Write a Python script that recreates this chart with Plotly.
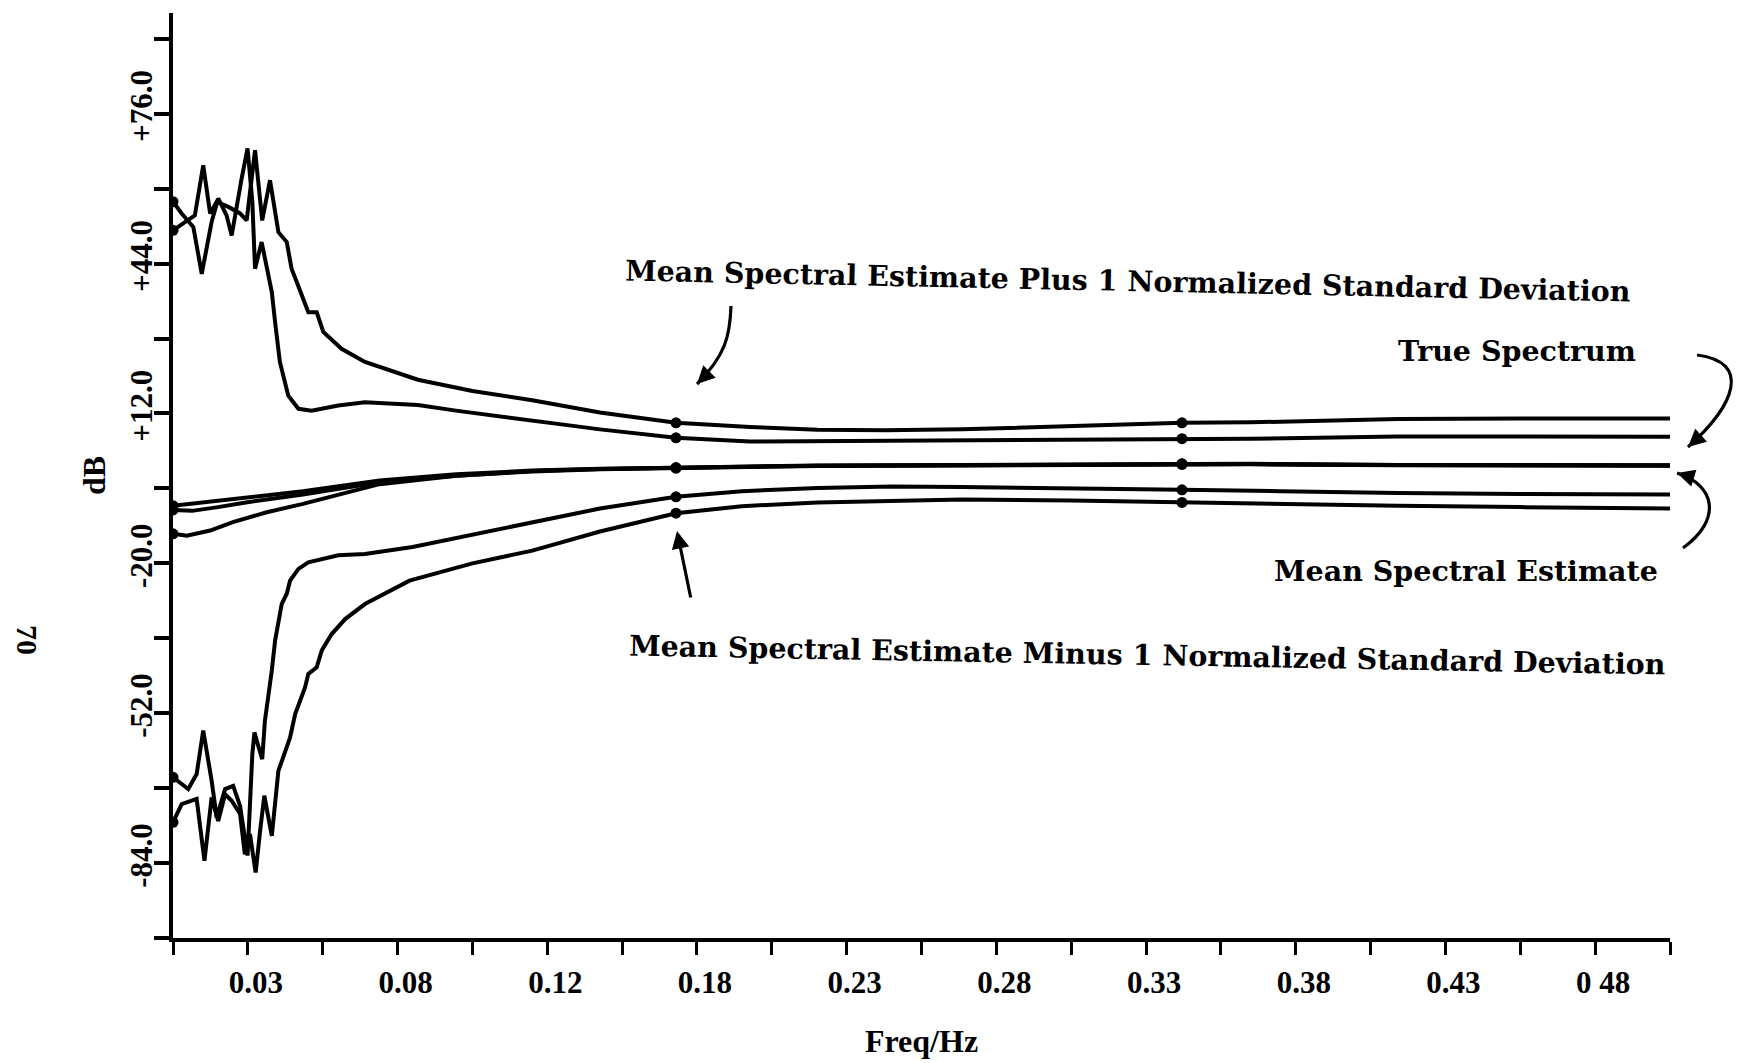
import plotly.graph_objects as go

# ---------------- data ----------------
PLUS_A_X = [0, 0.0029, 0.0068, 0.0096, 0.0129, 0.0151, 0.0179, 0.0196, 0.0229, 0.0249,
            0.0265, 0.0274, 0.0296, 0.0313, 0.033, 0.0341, 0.0357, 0.0385, 0.0419, 0.0463,
            0.0552, 0.0641, 0.0818, 0.0945, 0.115, 0.133, 0.1426, 0.168, 0.1927, 0.2153,
            0.2636, 0.3, 0.337, 0.36, 0.409, 0.45, 0.5]
PLUS_A_Y = [57.2, 54.7, 51.8, 41.8, 52.9, 57.9, 54.3, 50.0, 62.1, 68.6,
            57.2, 42.9, 48.6, 43.6, 37.9, 31.5, 23.0, 15.8, 13.0, 12.6,
            13.7, 14.4, 13.8, 12.6, 10.8, 9.4, 8.6, 6.8, 6.0, 6.1,
            6.1, 6.3, 6.6, 6.6, 7.1, 7.0, 7.0]

PLUS_B_X = [0, 0.00345, 0.0073, 0.0101, 0.0124, 0.0146, 0.0185, 0.0224, 0.0246, 0.0274,
            0.0298, 0.0324, 0.0352, 0.038, 0.0396, 0.0413, 0.0435, 0.0452, 0.048, 0.0502,
            0.0563, 0.0641, 0.0818, 0.1, 0.12, 0.1426, 0.168, 0.1927, 0.2153, 0.238,
            0.2636, 0.3, 0.337, 0.36, 0.409, 0.45, 0.5]
PLUS_B_Y = [51.1, 52.7, 54.3, 65.0, 54.7, 57.2, 56.1, 54.7, 53.2, 68.2,
            53.2, 61.8, 50.7, 48.6, 42.9, 40.1, 36.5, 33.6, 33.6, 29.4,
            25.8, 23.0, 19.2, 16.8, 14.8, 12.2, 10.0, 9.1, 8.5, 8.4,
            8.6, 9.2, 10.0, 10.1, 10.8, 10.9, 10.9]

MINUS_A_X = [0, 0.0051, 0.0079, 0.0101, 0.0129, 0.0146, 0.0174, 0.0201, 0.0224, 0.0249,
             0.0265, 0.0272, 0.0283, 0.0298, 0.0307, 0.0318, 0.033, 0.0341, 0.0352, 0.0363,
             0.038, 0.0391, 0.0419, 0.0452, 0.0552, 0.0641, 0.08, 0.0945, 0.115, 0.133,
             0.1426, 0.168, 0.19, 0.2153, 0.24, 0.2636, 0.3, 0.337, 0.37, 0.409,
             0.45, 0.5]
MINUS_A_Y = [-65.7, -68.2, -65.0, -55.7, -66.4, -74.3, -68.2, -67.5, -71.8, -82.4,
             -60.7, -56.1, -58.6, -61.8, -53.6, -48.6, -42.9, -36.5, -32.9, -28.7,
             -26.5, -23.7, -21.2, -19.8, -18.3, -18.0, -16.5, -14.6, -12.0, -9.6,
             -8.3, -5.8, -4.6, -3.9, -3.6, -3.7, -3.9, -4.3, -4.6, -5.0,
             -5.2, -5.3]

MINUS_B_X = [0, 0.0029, 0.0079, 0.0105, 0.0129, 0.0151, 0.0174, 0.0196, 0.0224, 0.024,
             0.0257, 0.0276, 0.0291, 0.0305, 0.033, 0.0341, 0.0352, 0.0368, 0.0391, 0.0408,
             0.0441, 0.0452, 0.048, 0.0497, 0.053, 0.0575, 0.0641, 0.079, 0.1, 0.12,
             0.1426, 0.168, 0.19, 0.2153, 0.24, 0.2636, 0.3, 0.337, 0.37, 0.409,
             0.45, 0.5]
MINUS_B_Y = [-75.3, -71.4, -70.3, -83.5, -70.0, -75.0, -69.3, -70.7, -73.5, -82.1,
             -77.8, -86.0, -77.1, -69.6, -78.2, -70.7, -64.3, -61.4, -57.2, -52.2,
             -46.5, -43.6, -42.2, -38.6, -35.1, -31.9, -28.7, -23.7, -20.0, -17.3,
             -13.2, -9.3, -7.8, -7.0, -6.6, -6.4, -6.6, -7.0, -7.3, -7.7,
             -8.0, -8.3]

TRUE_X = [0, 0.01, 0.02, 0.0243, 0.0434, 0.069, 0.0946, 0.12, 0.1426, 0.168,
          0.1927, 0.2153, 0.2636, 0.3, 0.337, 0.36, 0.409, 0.45, 0.5]
TRUE_Y = [-7.7, -7.0, -6.2, -5.9, -4.6, -2.3, -1.0, -0.2, 0.2, 0.4,
          0.68, 0.9, 1.0, 1.1, 1.25, 1.25, 1.0, 0.95, 0.95]

MEAN_A_X = [0, 0.0064, 0.015, 0.0243, 0.0434, 0.069, 0.0946, 0.12, 0.1426, 0.168,
            0.1927, 0.2153, 0.2636, 0.3, 0.337, 0.36, 0.409, 0.45, 0.5]
MEAN_A_Y = [-8.6, -8.8, -8.0, -7.0, -5.3, -2.7, -1.3, -0.4, 0.1, 0.35,
            0.6, 0.8, 0.9, 1.0, 1.15, 1.15, 0.95, 0.9, 0.85]

MEAN_B_X = [0, 0.0046, 0.0124, 0.02, 0.0313, 0.0434, 0.069, 0.0946, 0.12, 0.1426,
            0.168, 0.1927, 0.2153, 0.2636, 0.3, 0.337, 0.36, 0.409, 0.45, 0.5]
MEAN_B_Y = [-13.7, -14.1, -13.0, -11.2, -9.1, -7.3, -3.1, -1.3, -0.3, 0.15,
            0.4, 0.65, 0.85, 0.95, 1.05, 1.2, 1.2, 1.0, 0.9, 0.9]

MARK_X = [0, 0.168, 0.337]

X_TICKS = [0, 0.025, 0.05, 0.075, 0.1, 0.125, 0.15, 0.175, 0.2, 0.225, 0.25,
           0.275, 0.3, 0.325, 0.35, 0.375, 0.4, 0.425, 0.45, 0.475, 0.5]
X_TICK_LABELS = ["", "0.03", "", "0.08", "", "0.12", "", "0.18", "", "0.23", "",
                 "0.28", "", "0.33", "", "0.38", "", "0.43", "", "0 48", ""]
Y_TICKS = [-100, -84, -68, -52, -36, -20, -4, 12, 28, 44, 60, 76, 92]
Y_TICK_LABELS = ["", "-84.0", "", "-52.0", "", "-20.0", "", "+12.0", "", "+44.0", "",
                 "+76.0", ""]

SERIES = [
    ("Mean + 1 SD (a)", PLUS_A_X, PLUS_A_Y),
    ("Mean + 1 SD (b)", PLUS_B_X, PLUS_B_Y),
    ("True Spectrum", TRUE_X, TRUE_Y),
    ("Mean Spectral Estimate (a)", MEAN_A_X, MEAN_A_Y),
    ("Mean Spectral Estimate (b)", MEAN_B_X, MEAN_B_Y),
    ("Mean - 1 SD (a)", MINUS_A_X, MINUS_A_Y),
    ("Mean - 1 SD (b)", MINUS_B_X, MINUS_B_Y),
]

# ---------------- figure ----------------
W, H = 1738, 1063
ML, MR, MT, MB = 173, 68, 13, 125
PW, PH = W - ML - MR, H - MT - MB

TICK_FONT = dict(family="Liberation Serif", size=31, color="black", weight="bold")
ANN_FONT = dict(family="DejaVu Serif", size=28.5, color="black", weight="bold")

fig = go.Figure()
for name, xs, ys in SERIES:
    sizes = [11 if any(abs(x - m) < 1e-9 for m in MARK_X) else 0 for x in xs]
    fig.add_trace(go.Scatter(
        x=xs, y=ys, mode="lines+markers", name=name,
        line=dict(color="black", width=4),
        marker=dict(color="black", size=sizes, opacity=1, line=dict(width=0)),
        showlegend=False, hoverinfo="x+y+name"))


def pp(px, py):
    """page pixel -> paper coordinates"""
    return (px - ML) / PW, (H - MB - py) / PH


def curve(p0, c1, c2, p1):
    a, b, c, d = pp(*p0), pp(*c1), pp(*c2), pp(*p1)
    return (f"M {a[0]:.5f},{a[1]:.5f} C {b[0]:.5f},{b[1]:.5f} "
            f"{c[0]:.5f},{c[1]:.5f} {d[0]:.5f},{d[1]:.5f}")


shapes = []
annotations = []

# curved arrows
ARROWS = [
    ((731, 306), (730, 335), (726, 355), (697, 384), (10, -10)),      # plus
    ((1697, 355), (1752, 362), (1735, 405), (1688, 447), (10, -9)),   # true spectrum
    ((1683, 548), (1722, 520), (1716, 485), (1677, 473), (13, 4)),    # mean estimate
]
for p0, c1, c2, p1, (dx, dy) in ARROWS:
    shapes.append(dict(type="path", xref="paper", yref="paper",
                       path=curve(p0, c1, c2, p1),
                       line=dict(color="black", width=3.2)))
    hx, hy = pp(*p1)
    annotations.append(dict(x=hx, y=hy, xref="paper", yref="paper", text="",
                            showarrow=True, arrowhead=2, arrowsize=1.1,
                            arrowwidth=3.2, arrowcolor="black",
                            ax=dx, ay=dy, standoff=0))

# straight arrow (minus)
hx, hy = pp(677, 531)
annotations.append(dict(x=hx, y=hy, xref="paper", yref="paper", text="",
                        showarrow=True, arrowhead=2, arrowsize=1.1, arrowwidth=3.2,
                        arrowcolor="black", ax=14, ay=68, standoff=0))

LABELS = [
    ("Mean Spectral Estimate Plus 1 Normalized Standard Deviation", (1128, 281), 1.2),
    ("True Spectrum", (1517, 351), 0),
    ("Mean Spectral Estimate", (1466, 571), 0),
    ("Mean Spectral Estimate Minus 1 Normalized Standard Deviation", (1147, 655), 1.05),
]
for txt, (px, py), ang in LABELS:
    x, y = pp(px, py)
    annotations.append(dict(x=x, y=y, xref="paper", yref="paper", text=txt,
                            showarrow=False, textangle=ang, font=ANN_FONT,
                            xanchor="center", yanchor="middle"))

# page number
x, y = pp(28, 640)
annotations.append(dict(x=x, y=y, xref="paper", yref="paper", text="70",
                        showarrow=False, textangle=90,
                        font=dict(family="Liberation Serif", size=30,
                                  color="black", weight="bold"),
                        xanchor="center", yanchor="middle"))

fig.update_layout(
    width=W, height=H,
    margin=dict(l=ML, r=MR, t=MT, b=MB, pad=0, autoexpand=False),
    paper_bgcolor="white", plot_bgcolor="white",
    shapes=shapes, annotations=annotations,
    xaxis=dict(range=[0, 0.5], tickmode="array", tickvals=X_TICKS,
               ticktext=X_TICK_LABELS, ticks="outside", ticklen=13,
               tickwidth=3, tickcolor="black", showline=True, linewidth=3.5,
               linecolor="black", showgrid=False, zeroline=False,
               automargin=False,
               tickfont=TICK_FONT, ticklabelstandoff=1, ticklabelshift=8,
               title=dict(text="Freq/Hz", standoff=32,
                          font=dict(family="Liberation Serif", size=32,
                                    color="black", weight="bold"))),
    yaxis=dict(range=[-100, 97.5], tickmode="array", tickvals=Y_TICKS,
               ticktext=Y_TICK_LABELS, ticks="outside", ticklen=15,
               tickwidth=3.5, tickcolor="black", showline=True, linewidth=3.5,
               linecolor="black", showgrid=False, zeroline=False,
               automargin=False,
               tickangle=-90, tickfont=TICK_FONT, ticklabelstandoff=-10,
               ticklabelshift=-3,
               title=dict(text="dB", standoff=10,
                          font=dict(family="Liberation Serif", size=32,
                                    color="black", weight="bold"))),
)

fig.write_html("out.html", config={"displayModeBar": False},
               post_script="document.body.style.margin='0';")
